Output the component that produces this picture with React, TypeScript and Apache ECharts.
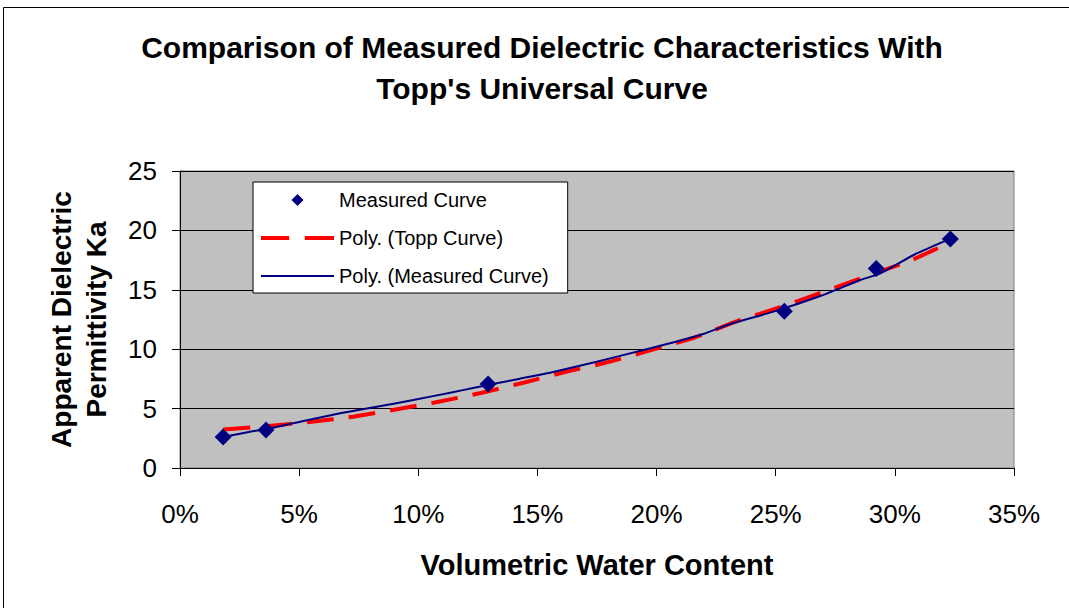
import React, { useEffect, useRef } from "react";
import * as echarts from "echarts";

const titleLines = ["Comparison of Measured Dielectric Characteristics With", "Topp's Universal Curve"];
const xAxisName = "Volumetric Water Content";
const yAxisName = "Apparent Dielectric\nPermittivity Ka";

// Measured data points (volumetric water content as fraction, Ka)
const measuredX = [0.0181, 0.0361, 0.1293, 0.2536, 0.2922, 0.3233];
const measuredKa = [2.61, 3.2, 7.07, 13.2, 16.8, 19.28];

// Poly. (Topp Curve) trendline
const toppX = [0.0181, 0.0371, 0.0553, 0.0728, 0.091, 0.1084, 0.1267, 0.1441, 0.1623, 0.1805, 0.1987, 0.2162, 0.2344, 0.2519, 0.2701, 0.2883, 0.3065, 0.317, 0.3233];
const toppKa = [3.24, 3.54, 3.9, 4.32, 4.94, 5.57, 6.34, 7.18, 8.11, 8.95, 9.99, 11.0, 12.4, 13.53, 14.84, 16.16, 17.45, 18.41, 18.9];

// Poly. (Measured Curve) trendline
const polyMeasX = [0.0181, 0.0294, 0.0364, 0.0504, 0.0672, 0.0826, 0.0979, 0.1134, 0.123, 0.1427, 0.1553, 0.1749, 0.1945, 0.2183, 0.2309, 0.2491, 0.2687, 0.2855, 0.2939, 0.3079, 0.3204, 0.3233];
const polyMeasKa = [2.61, 3.06, 3.28, 3.9, 4.6, 5.16, 5.72, 6.34, 6.73, 7.52, 8.02, 8.95, 9.93, 11.2, 12.12, 13.16, 14.48, 15.82, 16.39, 17.93, 19.05, 19.28];

const seriesNames = ["Measured Curve", "Poly. (Topp Curve)", "Poly. (Measured Curve)"];

const FONT = "'Liberation Sans', Arial, sans-serif";
const NAVY = "#000080";
const RED = "#FF0000";

const zip = (xs: number[], ys: number[]) => xs.map((x, i) => [x, ys[i]]);

export default function App() {
  const ref = useRef<HTMLDivElement>(null);
  useEffect(() => {
    if (!ref.current) return;
    const chart = echarts.init(ref.current, undefined, { renderer: "svg" });
    chart.setOption({
      animation: false,
      backgroundColor: "#ffffff",
      textStyle: { fontFamily: FONT },
      title: {
        text: titleLines.join("\n"),
        left: 537,
        textAlign: "center",
        top: 22,
        textStyle: { fontFamily: FONT, fontSize: 30, fontWeight: "bold", color: "#000", lineHeight: 41 },
      },
      graphic: [
        {
          type: "rect",
          shape: { x: 3.5, y: 7.5, width: 1200, height: 800 },
          style: { fill: "none", stroke: "#000", lineWidth: 1 },
          silent: true,
          z: 100,
        },
      ],
      grid: {
        left: 180,
        top: 171,
        width: 834,
        height: 297,
        show: true,
        backgroundColor: "#C0C0C0",
        borderColor: "#808080",
        borderWidth: 1,
      },
      legend: {
        orient: "vertical",
        left: 253,
        top: 182,
        width: 314,
        backgroundColor: "#ffffff",
        borderColor: "#000",
        borderWidth: 1,
        borderRadius: 0,
        padding: [8, 19, 7, 8],
        itemGap: 18,
        itemWidth: 73,
        itemHeight: 12,
        symbolKeepAspect: true,
        textStyle: { fontFamily: FONT, fontSize: 20, color: "#000" },
        data: [
          {
            name: seriesNames[0],
            icon: "path://M0,-1L1,0L0,1L-1,0Z",
            itemStyle: { color: NAVY, borderWidth: 0, opacity: 1 },
          },
          {
            name: seriesNames[1],
            icon: "path://M0,0H27V4H0Z M42,0H70V4H42Z",
            itemStyle: { color: RED, borderWidth: 0, opacity: 1 },
          },
          {
            name: seriesNames[2],
            icon: "path://M0,0H73V2H0Z",
            itemStyle: { color: NAVY, borderWidth: 0, opacity: 1 },
          },
        ],
      },
      xAxis: {
        type: "value",
        min: 0,
        max: 0.35,
        interval: 0.05,
        name: xAxisName,
        nameLocation: "middle",
        nameGap: 82,
        nameTextStyle: { fontFamily: FONT, fontSize: 29, fontWeight: "bold", color: "#000" },
        axisLine: { show: true, onZero: false, lineStyle: { color: "#000", width: 1 } },
        axisTick: { show: true, length: 8, lineStyle: { color: "#000" } },
        axisLabel: {
          margin: 33,
          fontFamily: FONT,
          fontSize: 26,
          color: "#000",
          formatter: (v: number) => Math.round(v * 100) + "%",
        },
        splitLine: { show: false },
      },
      yAxis: {
        type: "value",
        min: 0,
        max: 25,
        interval: 5,
        name: yAxisName,
        nameLocation: "middle",
        nameRotate: 90,
        nameGap: 66,
        nameTextStyle: { fontFamily: FONT, fontSize: 28, fontWeight: "bold", color: "#000", lineHeight: 35 },
        axisLine: { show: true, lineStyle: { color: "#000", width: 1 } },
        axisTick: { show: true, length: 8, lineStyle: { color: "#000" } },
        axisLabel: { margin: 23, fontFamily: FONT, fontSize: 26, color: "#000" },
        splitLine: { show: true, lineStyle: { color: "#000", width: 1 } },
      },
      series: [
        {
          name: seriesNames[1],
          type: "line",
          data: zip(toppX, toppKa),
          symbol: "none",
          smooth: 0.2,
          lineStyle: { color: RED, width: 4, type: [27, 15] },
          itemStyle: { color: RED },
          z: 2,
        },
        {
          name: seriesNames[2],
          type: "line",
          data: zip(polyMeasX, polyMeasKa),
          symbol: "none",
          smooth: 0.2,
          lineStyle: { color: NAVY, width: 2 },
          itemStyle: { color: NAVY },
          z: 3,
        },
        {
          name: seriesNames[0],
          type: "scatter",
          data: zip(measuredX, measuredKa),
          symbol: "diamond",
          symbolSize: 17,
          itemStyle: { color: NAVY, opacity: 1 },
          z: 4,
        },
      ],
    });
    return () => chart.dispose();
  }, []);
  return (
    <div
      ref={ref}
      style={{ position: "fixed", left: 0, top: 0, width: 1069, height: 608 }}
    />
  );
}
